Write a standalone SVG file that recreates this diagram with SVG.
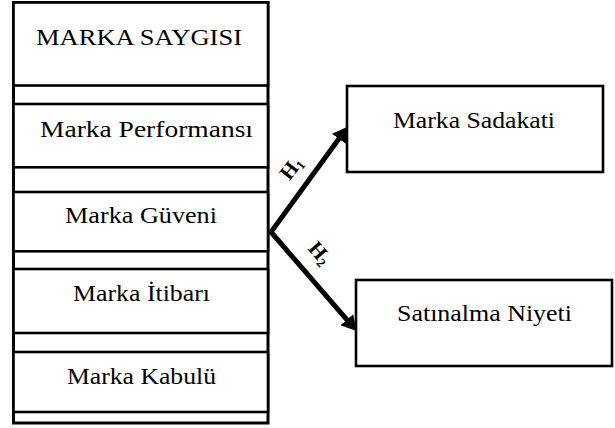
<svg xmlns="http://www.w3.org/2000/svg" width="615" height="428" viewBox="0 0 615 428">
<defs>
<style>
.box{fill:#fff;stroke:#000;stroke-width:2.6}
.outer{fill:none;stroke:#000;stroke-width:3}
.t{font-family:"Liberation Serif","Times New Roman",serif;font-size:22.5px;fill:#000;text-anchor:middle}
.h{font-family:"Liberation Serif","Times New Roman",serif;font-size:21px;font-weight:bold;fill:#000;text-anchor:middle}
.arrow{fill:none;stroke:#000;stroke-width:5;stroke-linejoin:miter}
</style>
<marker id="ah" viewBox="0 0 15 17" refX="2" refY="8.5" markerWidth="15" markerHeight="17" markerUnits="userSpaceOnUse" orient="auto-start-reverse">
<path d="M0,0 L15,8.5 L0,17 z" fill="#000"/>
</marker>
</defs>
<rect width="615" height="428" fill="#fff"/>
<g id="marka-saygisi">
<rect class="outer" x="13.5" y="2.5" width="254.5" height="420.5"/>
<rect class="box" x="13.5" y="2.5" width="254.5" height="83"/>
<text class="t" x="139" y="44.5" textLength="206" lengthAdjust="spacingAndGlyphs">MARKA SAYGISI</text>
</g>
<g id="marka-performansi">
<rect class="box" x="13.5" y="104" width="254.5" height="63.3"/>
<text class="t" x="146.5" y="137" textLength="213" lengthAdjust="spacingAndGlyphs">Marka Performansı</text>
</g>
<g id="marka-guveni">
<rect class="box" x="13.5" y="192" width="254.5" height="59.3"/>
<text class="t" x="141" y="223" textLength="152" lengthAdjust="spacingAndGlyphs">Marka Güveni</text>
</g>
<g id="marka-itibari">
<rect class="box" x="13.5" y="269" width="254.5" height="64"/>
<text class="t" x="141.5" y="300.5" textLength="137" lengthAdjust="spacingAndGlyphs">Marka İtibarı</text>
</g>
<g id="marka-kabulu">
<rect class="box" x="13.5" y="352" width="254.5" height="60"/>
<text class="t" x="141.5" y="384" textLength="149" lengthAdjust="spacingAndGlyphs">Marka Kabulü</text>
</g>
<g id="marka-sadakati">
<rect class="box" x="347" y="86" width="256" height="86"/>
<text class="t" x="474" y="128" textLength="162" lengthAdjust="spacingAndGlyphs">Marka Sadakati</text>
</g>
<g id="satinalma-niyeti">
<rect class="box" x="356" y="280" width="256" height="86"/>
<text class="t" x="484.5" y="321" textLength="175" lengthAdjust="spacingAndGlyphs">Satınalma Niyeti</text>
</g>
<g id="connectors">
<path class="arrow" d="M340,137.2 L271,232 L348.1,321.2" marker-start="url(#ah)" marker-end="url(#ah)"/>
<text class="h" transform="translate(291,168) rotate(-52)" y="7">H<tspan font-size="13" dy="3">1</tspan></text>
<text class="h" transform="translate(320,253) rotate(49)" y="7">H<tspan font-size="13" dy="3">2</tspan></text>
</g>
</svg>
